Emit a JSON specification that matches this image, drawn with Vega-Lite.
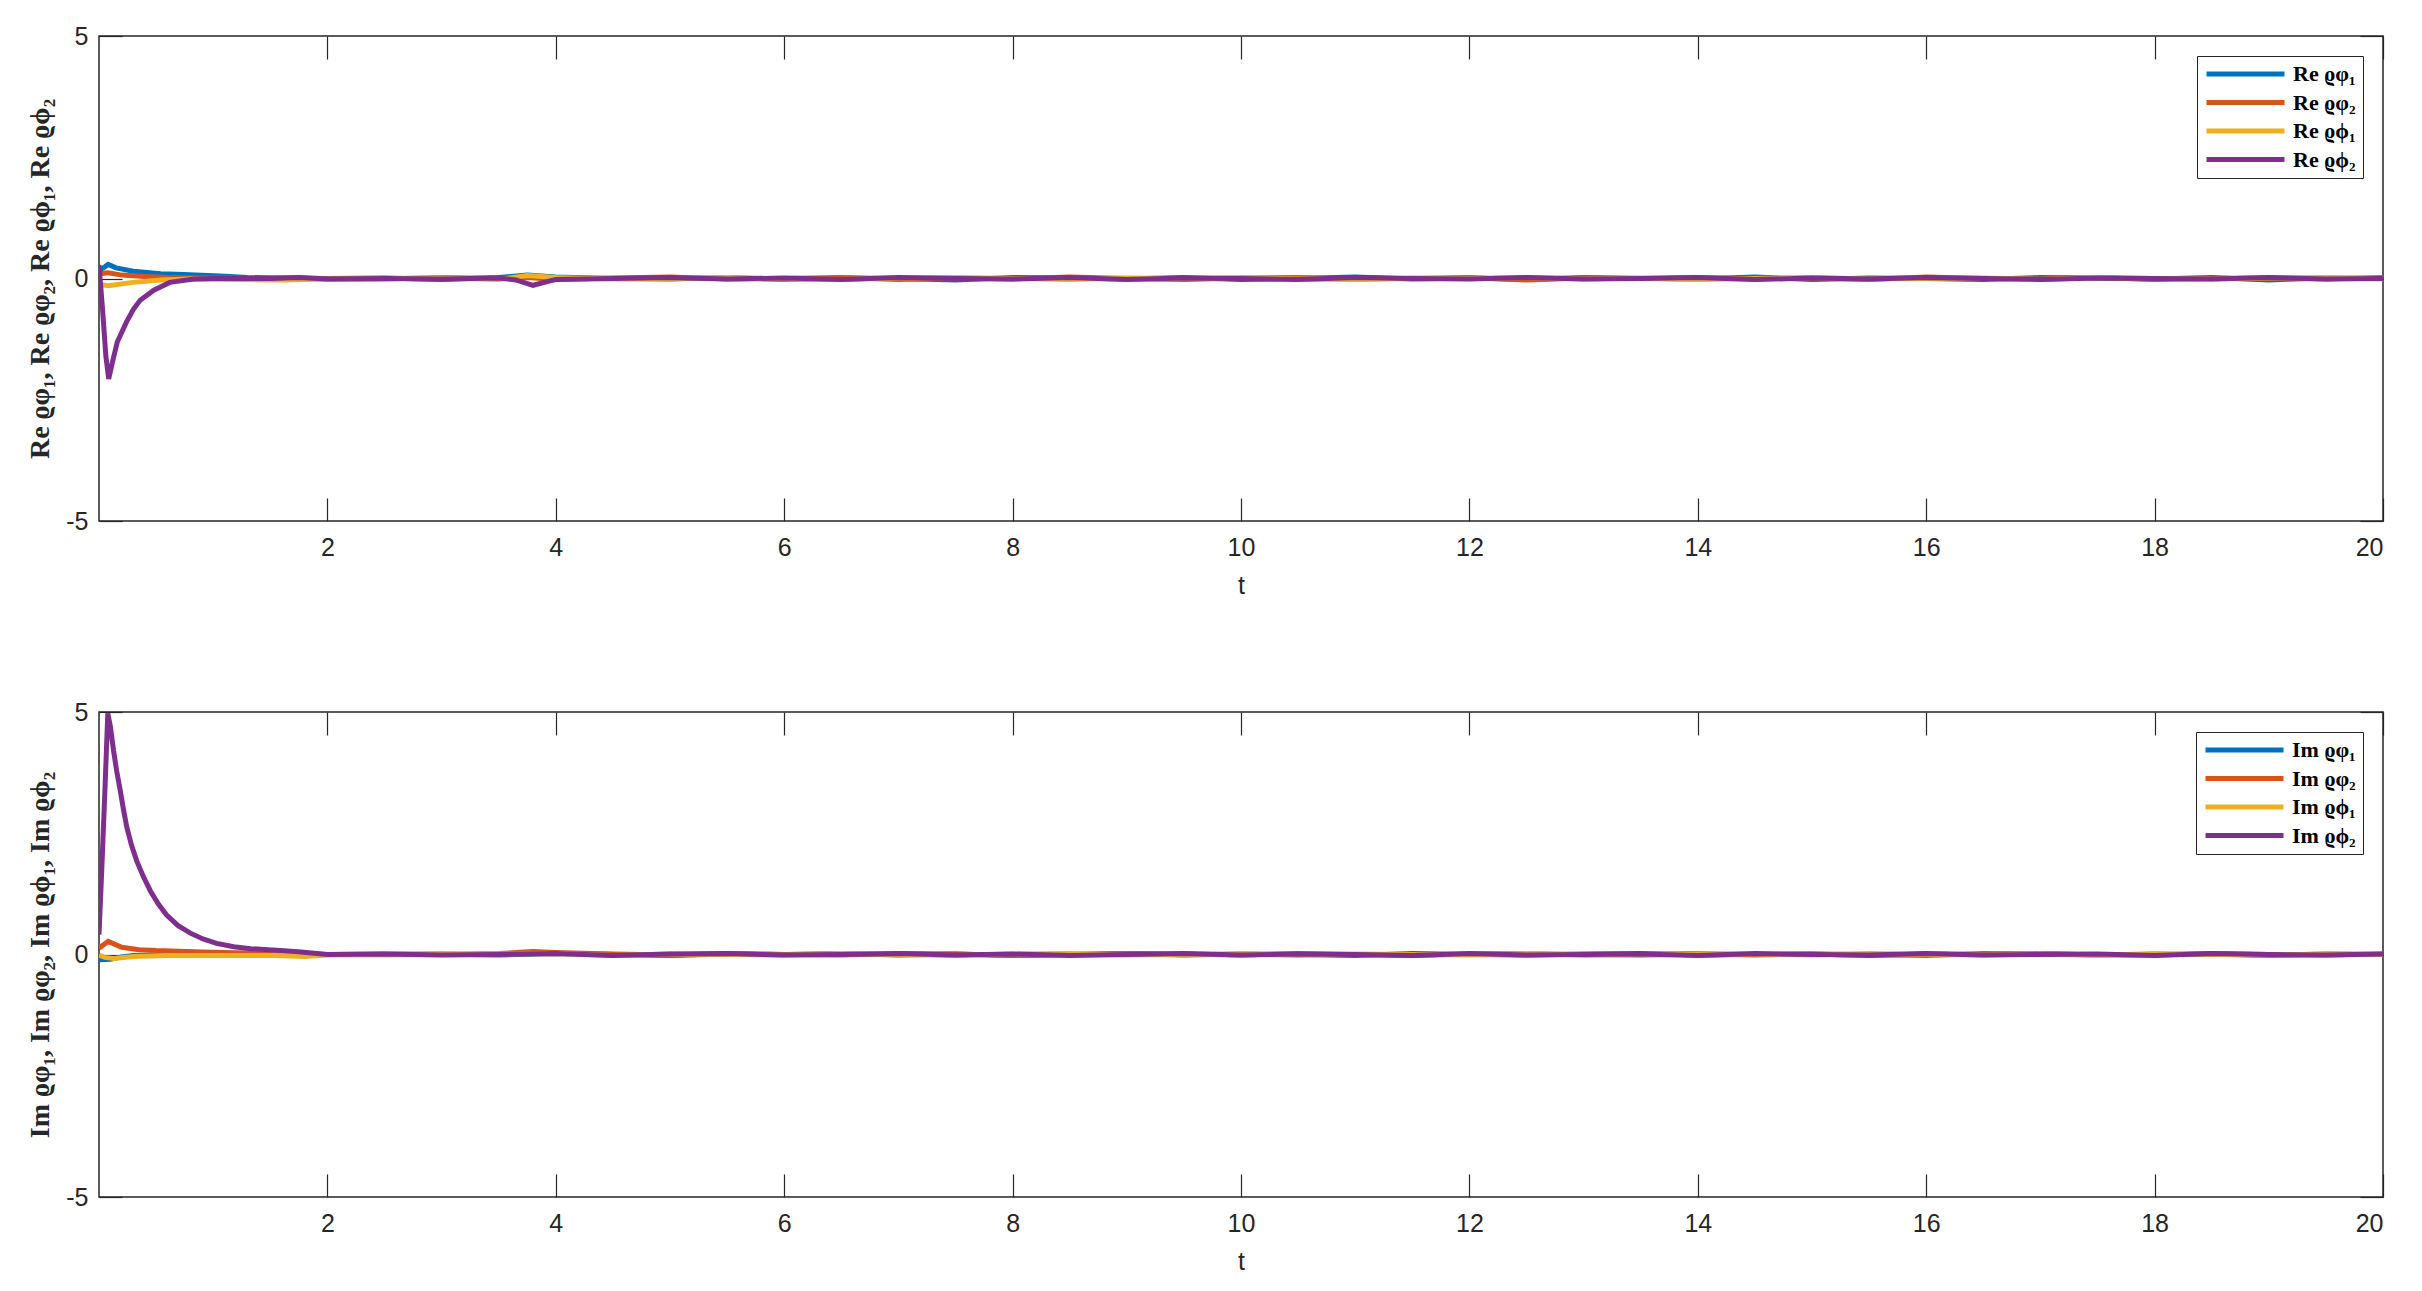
{
  "$schema": "https://vega.github.io/schema/vega-lite/v6.json",
  "background": "white",
  "padding": {"left": 26, "top": 23, "right": 0, "bottom": 0},
  "spacing": 100,
  "config": {
    "view": {"stroke": "#262626", "strokeWidth": 1.5},
    "axis": {"grid": false, "domain": false, "tickSize": -23, "tickColor": "#262626", "tickWidth": 1.2, "labelColor": "#262626", "labelFont": "Liberation Sans", "labelFontSize": 25, "titleColor": "#262626"},
    "legend": {"orient": "top-right", "offset": 20, "strokeColor": "#262626", "fillColor": "white", "padding": 7, "symbolType": "stroke", "symbolSize": 6084, "symbolStrokeWidth": 5, "clipHeight": 22, "rowPadding": 6.5, "labelOffset": 6, "labelFont": "Liberation Serif", "labelFontWeight": "bold", "labelFontSize": 22, "labelColor": "black", "title": null, "cornerRadius": 0}
  },
  "datasets": {
    "re": [
      {"s":"Re ϱφ₁","t":0,"v":0.17},{"s":"Re ϱφ₁","t":0.04,"v":0.22},{"s":"Re ϱφ₁","t":0.08,"v":0.29},{"s":"Re ϱφ₁","t":0.15,"v":0.22},{"s":"Re ϱφ₁","t":0.3,"v":0.15},{"s":"Re ϱφ₁","t":0.54,"v":0.1},{"s":"Re ϱφ₁","t":0.74,"v":0.08},{"s":"Re ϱφ₁","t":1.06,"v":0.05},{"s":"Re ϱφ₁","t":1.3,"v":0.02},{"s":"Re ϱφ₁","t":1.6,"v":0.01},{"s":"Re ϱφ₁","t":2,"v":0},
      {"s":"Re ϱφ₁","t":2.5,"v":0.01},{"s":"Re ϱφ₁","t":3,"v":-0.02},{"s":"Re ϱφ₁","t":3.5,"v":0.02},{"s":"Re ϱφ₁","t":3.75,"v":0.07},{"s":"Re ϱφ₁","t":4,"v":0.03},{"s":"Re ϱφ₁","t":4.5,"v":0},{"s":"Re ϱφ₁","t":5,"v":-0.01},{"s":"Re ϱφ₁","t":5.5,"v":0.02},{"s":"Re ϱφ₁","t":6,"v":-0.02},{"s":"Re ϱφ₁","t":6.5,"v":0.01},{"s":"Re ϱφ₁","t":7,"v":0},{"s":"Re ϱφ₁","t":7.5,"v":-0.03},{"s":"Re ϱφ₁","t":8,"v":0.02},{"s":"Re ϱφ₁","t":8.5,"v":0.01},{"s":"Re ϱφ₁","t":9,"v":-0.01},{"s":"Re ϱφ₁","t":9.5,"v":0.02},{"s":"Re ϱφ₁","t":10,"v":-0.02},{"s":"Re ϱφ₁","t":10.5,"v":0},{"s":"Re ϱφ₁","t":11,"v":0.03},{"s":"Re ϱφ₁","t":11.5,"v":-0.01},{"s":"Re ϱφ₁","t":12,"v":0.01},{"s":"Re ϱφ₁","t":12.5,"v":-0.02},{"s":"Re ϱφ₁","t":13,"v":0.02},{"s":"Re ϱφ₁","t":13.5,"v":0},{"s":"Re ϱφ₁","t":14,"v":-0.01},{"s":"Re ϱφ₁","t":14.5,"v":0.03},{"s":"Re ϱφ₁","t":15,"v":-0.02},{"s":"Re ϱφ₁","t":15.5,"v":0.01},{"s":"Re ϱφ₁","t":16,"v":0},{"s":"Re ϱφ₁","t":16.5,"v":-0.02},{"s":"Re ϱφ₁","t":17,"v":0.02},{"s":"Re ϱφ₁","t":17.5,"v":0.01},{"s":"Re ϱφ₁","t":18,"v":-0.01},{"s":"Re ϱφ₁","t":18.5,"v":0.02},{"s":"Re ϱφ₁","t":19,"v":-0.03},{"s":"Re ϱφ₁","t":19.5,"v":0.01},{"s":"Re ϱφ₁","t":20,"v":0},

      {"s":"Re ϱφ₂","t":0,"v":0.1},{"s":"Re ϱφ₂","t":0.08,"v":0.12},{"s":"Re ϱφ₂","t":0.2,"v":0.07},{"s":"Re ϱφ₂","t":0.4,"v":0.04},{"s":"Re ϱφ₂","t":0.6,"v":0.02},{"s":"Re ϱφ₂","t":0.9,"v":0.01},{"s":"Re ϱφ₂","t":1.3,"v":0},{"s":"Re ϱφ₂","t":1.7,"v":0.01},{"s":"Re ϱφ₂","t":2,"v":-0.01},
      {"s":"Re ϱφ₂","t":2.5,"v":-0.01},{"s":"Re ϱφ₂","t":3,"v":0.02},{"s":"Re ϱφ₂","t":3.5,"v":0},{"s":"Re ϱφ₂","t":3.75,"v":0.02},{"s":"Re ϱφ₂","t":4,"v":-0.02},{"s":"Re ϱφ₂","t":4.5,"v":0.01},{"s":"Re ϱφ₂","t":5,"v":0.03},{"s":"Re ϱφ₂","t":5.5,"v":-0.01},{"s":"Re ϱφ₂","t":6,"v":0},{"s":"Re ϱφ₂","t":6.5,"v":0.02},{"s":"Re ϱφ₂","t":7,"v":-0.02},{"s":"Re ϱφ₂","t":7.5,"v":0.01},{"s":"Re ϱφ₂","t":8,"v":-0.01},{"s":"Re ϱφ₂","t":8.5,"v":0.03},{"s":"Re ϱφ₂","t":9,"v":0},{"s":"Re ϱφ₂","t":9.5,"v":-0.02},{"s":"Re ϱφ₂","t":10,"v":0.01},{"s":"Re ϱφ₂","t":10.5,"v":0.02},{"s":"Re ϱφ₂","t":11,"v":-0.01},{"s":"Re ϱφ₂","t":11.5,"v":0},{"s":"Re ϱφ₂","t":12,"v":0.02},{"s":"Re ϱφ₂","t":12.5,"v":-0.03},{"s":"Re ϱφ₂","t":13,"v":0.01},{"s":"Re ϱφ₂","t":13.5,"v":0},{"s":"Re ϱφ₂","t":14,"v":0.02},{"s":"Re ϱφ₂","t":14.5,"v":-0.01},{"s":"Re ϱφ₂","t":15,"v":0.01},{"s":"Re ϱφ₂","t":15.5,"v":-0.02},{"s":"Re ϱφ₂","t":16,"v":0.03},{"s":"Re ϱφ₂","t":16.5,"v":0},{"s":"Re ϱφ₂","t":17,"v":-0.01},{"s":"Re ϱφ₂","t":17.5,"v":0.02},{"s":"Re ϱφ₂","t":18,"v":-0.02},{"s":"Re ϱφ₂","t":18.5,"v":0},{"s":"Re ϱφ₂","t":19,"v":0.01},{"s":"Re ϱφ₂","t":19.5,"v":-0.01},{"s":"Re ϱφ₂","t":20,"v":0.02},

      {"s":"Re ϱϕ₁","t":0,"v":-0.12},{"s":"Re ϱϕ₁","t":0.08,"v":-0.15},{"s":"Re ϱϕ₁","t":0.3,"v":-0.08},{"s":"Re ϱϕ₁","t":0.54,"v":-0.03},{"s":"Re ϱϕ₁","t":0.8,"v":-0.01},{"s":"Re ϱϕ₁","t":1.2,"v":-0.02},{"s":"Re ϱϕ₁","t":1.6,"v":-0.03},{"s":"Re ϱϕ₁","t":2,"v":-0.01},
      {"s":"Re ϱϕ₁","t":2.5,"v":0},{"s":"Re ϱϕ₁","t":3,"v":0.01},{"s":"Re ϱϕ₁","t":3.5,"v":-0.02},{"s":"Re ϱϕ₁","t":3.75,"v":0.06},{"s":"Re ϱϕ₁","t":4,"v":0.02},{"s":"Re ϱϕ₁","t":4.5,"v":-0.01},{"s":"Re ϱϕ₁","t":5,"v":0},{"s":"Re ϱϕ₁","t":5.5,"v":0.02},{"s":"Re ϱϕ₁","t":6,"v":-0.01},{"s":"Re ϱϕ₁","t":6.5,"v":-0.02},{"s":"Re ϱϕ₁","t":7,"v":0.01},{"s":"Re ϱϕ₁","t":7.5,"v":0.02},{"s":"Re ϱϕ₁","t":8,"v":0},{"s":"Re ϱϕ₁","t":8.5,"v":-0.02},{"s":"Re ϱϕ₁","t":9,"v":0.01},{"s":"Re ϱϕ₁","t":9.5,"v":0},{"s":"Re ϱϕ₁","t":10,"v":0.02},{"s":"Re ϱϕ₁","t":10.5,"v":-0.01},{"s":"Re ϱϕ₁","t":11,"v":-0.02},{"s":"Re ϱϕ₁","t":11.5,"v":0.01},{"s":"Re ϱϕ₁","t":12,"v":0},{"s":"Re ϱϕ₁","t":12.5,"v":0.02},{"s":"Re ϱϕ₁","t":13,"v":-0.01},{"s":"Re ϱϕ₁","t":13.5,"v":0.01},{"s":"Re ϱϕ₁","t":14,"v":-0.02},{"s":"Re ϱϕ₁","t":14.5,"v":0},{"s":"Re ϱϕ₁","t":15,"v":0.02},{"s":"Re ϱϕ₁","t":15.5,"v":-0.01},{"s":"Re ϱϕ₁","t":16,"v":0},{"s":"Re ϱϕ₁","t":16.5,"v":0.01},{"s":"Re ϱϕ₁","t":17,"v":-0.02},{"s":"Re ϱϕ₁","t":17.5,"v":0.02},{"s":"Re ϱϕ₁","t":18,"v":0},{"s":"Re ϱϕ₁","t":18.5,"v":-0.01},{"s":"Re ϱϕ₁","t":19,"v":0.01},{"s":"Re ϱϕ₁","t":19.5,"v":0.02},{"s":"Re ϱϕ₁","t":20,"v":-0.01},

      {"s":"Re ϱϕ₂","t":0,"v":0.28},{"s":"Re ϱϕ₂","t":0.03,"v":-0.6},{"s":"Re ϱϕ₂","t":0.06,"v":-1.6},{"s":"Re ϱϕ₂","t":0.085,"v":-2.07},{"s":"Re ϱϕ₂","t":0.12,"v":-1.7},{"s":"Re ϱϕ₂","t":0.16,"v":-1.31},{"s":"Re ϱϕ₂","t":0.24,"v":-0.9},{"s":"Re ϱϕ₂","t":0.3,"v":-0.64},{"s":"Re ϱϕ₂","t":0.36,"v":-0.45},{"s":"Re ϱϕ₂","t":0.48,"v":-0.24},{"s":"Re ϱϕ₂","t":0.62,"v":-0.08},{"s":"Re ϱϕ₂","t":0.83,"v":-0.01},{"s":"Re ϱϕ₂","t":1,"v":0},{"s":"Re ϱϕ₂","t":1.5,"v":0},{"s":"Re ϱϕ₂","t":1.75,"v":0.02},{"s":"Re ϱϕ₂","t":2,"v":-0.01},
      {"s":"Re ϱϕ₂","t":2.5,"v":0},{"s":"Re ϱϕ₂","t":3,"v":-0.01},{"s":"Re ϱϕ₂","t":3.5,"v":0.01},{"s":"Re ϱϕ₂","t":3.65,"v":-0.03},{"s":"Re ϱϕ₂","t":3.8,"v":-0.14},{"s":"Re ϱϕ₂","t":3.95,"v":-0.05},{"s":"Re ϱϕ₂","t":4,"v":-0.02},{"s":"Re ϱϕ₂","t":4.5,"v":0},{"s":"Re ϱϕ₂","t":5,"v":0.02},{"s":"Re ϱϕ₂","t":5.5,"v":-0.01},{"s":"Re ϱϕ₂","t":6,"v":0.01},{"s":"Re ϱϕ₂","t":6.5,"v":-0.02},{"s":"Re ϱϕ₂","t":7,"v":0.02},{"s":"Re ϱϕ₂","t":7.5,"v":0},{"s":"Re ϱϕ₂","t":8,"v":-0.01},{"s":"Re ϱϕ₂","t":8.5,"v":0.02},{"s":"Re ϱϕ₂","t":9,"v":-0.02},{"s":"Re ϱϕ₂","t":9.5,"v":0.01},{"s":"Re ϱϕ₂","t":10,"v":0},{"s":"Re ϱϕ₂","t":10.5,"v":-0.02},{"s":"Re ϱϕ₂","t":11,"v":0.02},{"s":"Re ϱϕ₂","t":11.5,"v":0},{"s":"Re ϱϕ₂","t":12,"v":-0.01},{"s":"Re ϱϕ₂","t":12.5,"v":0.02},{"s":"Re ϱϕ₂","t":13,"v":-0.01},{"s":"Re ϱϕ₂","t":13.5,"v":0},{"s":"Re ϱϕ₂","t":14,"v":0.02},{"s":"Re ϱϕ₂","t":14.5,"v":-0.02},{"s":"Re ϱϕ₂","t":15,"v":0.01},{"s":"Re ϱϕ₂","t":15.5,"v":-0.01},{"s":"Re ϱϕ₂","t":16,"v":0.02},{"s":"Re ϱϕ₂","t":16.5,"v":0},{"s":"Re ϱϕ₂","t":17,"v":-0.02},{"s":"Re ϱϕ₂","t":17.5,"v":0.01},{"s":"Re ϱϕ₂","t":18,"v":0},{"s":"Re ϱϕ₂","t":18.5,"v":-0.01},{"s":"Re ϱϕ₂","t":19,"v":0.02},{"s":"Re ϱϕ₂","t":19.5,"v":-0.01},{"s":"Re ϱϕ₂","t":20,"v":0}
    ],
    "im": [
      {"s":"Im ϱφ₁","t":0,"v":-0.11},{"s":"Im ϱφ₁","t":0.1,"v":-0.1},{"s":"Im ϱφ₁","t":0.2,"v":-0.05},{"s":"Im ϱφ₁","t":0.3,"v":-0.02},{"s":"Im ϱφ₁","t":0.5,"v":-0.01},{"s":"Im ϱφ₁","t":1,"v":0},{"s":"Im ϱφ₁","t":1.5,"v":0},{"s":"Im ϱφ₁","t":2,"v":0},
      {"s":"Im ϱφ₁","t":2.5,"v":0},{"s":"Im ϱφ₁","t":3,"v":0.01},{"s":"Im ϱφ₁","t":3.5,"v":-0.01},{"s":"Im ϱφ₁","t":4,"v":0.02},{"s":"Im ϱφ₁","t":4.5,"v":0},{"s":"Im ϱφ₁","t":5,"v":-0.02},{"s":"Im ϱφ₁","t":5.5,"v":0.01},{"s":"Im ϱφ₁","t":6,"v":0},{"s":"Im ϱφ₁","t":6.5,"v":0.02},{"s":"Im ϱφ₁","t":7,"v":-0.01},{"s":"Im ϱφ₁","t":7.5,"v":0.01},{"s":"Im ϱφ₁","t":8,"v":-0.02},{"s":"Im ϱφ₁","t":8.5,"v":0},{"s":"Im ϱφ₁","t":9,"v":0.02},{"s":"Im ϱφ₁","t":9.5,"v":-0.01},{"s":"Im ϱφ₁","t":10,"v":0.01},{"s":"Im ϱφ₁","t":10.5,"v":0},{"s":"Im ϱφ₁","t":11,"v":-0.02},{"s":"Im ϱφ₁","t":11.5,"v":0.02},{"s":"Im ϱφ₁","t":12,"v":0},{"s":"Im ϱφ₁","t":12.5,"v":-0.01},{"s":"Im ϱφ₁","t":13,"v":0.01},{"s":"Im ϱφ₁","t":13.5,"v":0.02},{"s":"Im ϱφ₁","t":14,"v":-0.01},{"s":"Im ϱφ₁","t":14.5,"v":0},{"s":"Im ϱφ₁","t":15,"v":0.01},{"s":"Im ϱφ₁","t":15.5,"v":-0.02},{"s":"Im ϱφ₁","t":16,"v":0.01},{"s":"Im ϱφ₁","t":16.5,"v":0},{"s":"Im ϱφ₁","t":17,"v":0.02},{"s":"Im ϱφ₁","t":17.5,"v":-0.01},{"s":"Im ϱφ₁","t":18,"v":0},{"s":"Im ϱφ₁","t":18.5,"v":0.01},{"s":"Im ϱφ₁","t":19,"v":-0.02},{"s":"Im ϱφ₁","t":19.5,"v":0.01},{"s":"Im ϱφ₁","t":20,"v":0},

      {"s":"Im ϱφ₂","t":0,"v":0.13},{"s":"Im ϱφ₂","t":0.04,"v":0.2},{"s":"Im ϱφ₂","t":0.08,"v":0.27},{"s":"Im ϱφ₂","t":0.2,"v":0.15},{"s":"Im ϱφ₂","t":0.35,"v":0.1},{"s":"Im ϱφ₂","t":0.5,"v":0.08},{"s":"Im ϱφ₂","t":0.9,"v":0.05},{"s":"Im ϱφ₂","t":1.3,"v":0.03},{"s":"Im ϱφ₂","t":1.7,"v":0.01},{"s":"Im ϱφ₂","t":2,"v":0},
      {"s":"Im ϱφ₂","t":2.5,"v":0.01},{"s":"Im ϱφ₂","t":3,"v":0},{"s":"Im ϱφ₂","t":3.5,"v":0.02},{"s":"Im ϱφ₂","t":3.8,"v":0.06},{"s":"Im ϱφ₂","t":4,"v":0.04},{"s":"Im ϱφ₂","t":4.5,"v":0.01},{"s":"Im ϱφ₂","t":5,"v":-0.01},{"s":"Im ϱφ₂","t":5.5,"v":0.02},{"s":"Im ϱφ₂","t":6,"v":0},{"s":"Im ϱφ₂","t":6.5,"v":-0.01},{"s":"Im ϱφ₂","t":7,"v":0.02},{"s":"Im ϱφ₂","t":7.5,"v":0.01},{"s":"Im ϱφ₂","t":8,"v":-0.02},{"s":"Im ϱφ₂","t":8.5,"v":0},{"s":"Im ϱφ₂","t":9,"v":0.02},{"s":"Im ϱφ₂","t":9.5,"v":0.01},{"s":"Im ϱφ₂","t":10,"v":-0.01},{"s":"Im ϱφ₂","t":10.5,"v":0.02},{"s":"Im ϱφ₂","t":11,"v":0},{"s":"Im ϱφ₂","t":11.5,"v":-0.02},{"s":"Im ϱφ₂","t":12,"v":0.01},{"s":"Im ϱφ₂","t":12.5,"v":0.02},{"s":"Im ϱφ₂","t":13,"v":-0.01},{"s":"Im ϱφ₂","t":13.5,"v":0},{"s":"Im ϱφ₂","t":14,"v":0.02},{"s":"Im ϱφ₂","t":14.5,"v":-0.01},{"s":"Im ϱφ₂","t":15,"v":0.01},{"s":"Im ϱφ₂","t":15.5,"v":0},{"s":"Im ϱφ₂","t":16,"v":-0.02},{"s":"Im ϱφ₂","t":16.5,"v":0.02},{"s":"Im ϱφ₂","t":17,"v":0.01},{"s":"Im ϱφ₂","t":17.5,"v":0},{"s":"Im ϱφ₂","t":18,"v":-0.01},{"s":"Im ϱφ₂","t":18.5,"v":0.02},{"s":"Im ϱφ₂","t":19,"v":0},{"s":"Im ϱφ₂","t":19.5,"v":-0.01},{"s":"Im ϱφ₂","t":20,"v":0.01},

      {"s":"Im ϱϕ₁","t":0,"v":-0.01},{"s":"Im ϱϕ₁","t":0.05,"v":-0.06},{"s":"Im ϱϕ₁","t":0.13,"v":-0.08},{"s":"Im ϱϕ₁","t":0.3,"v":-0.04},{"s":"Im ϱϕ₁","t":0.6,"v":-0.02},{"s":"Im ϱϕ₁","t":1,"v":-0.02},{"s":"Im ϱϕ₁","t":1.55,"v":-0.02},{"s":"Im ϱϕ₁","t":1.8,"v":-0.04},{"s":"Im ϱϕ₁","t":2,"v":-0.01},
      {"s":"Im ϱϕ₁","t":2.5,"v":-0.01},{"s":"Im ϱϕ₁","t":3,"v":0},{"s":"Im ϱϕ₁","t":3.5,"v":0.01},{"s":"Im ϱϕ₁","t":4,"v":0.02},{"s":"Im ϱϕ₁","t":4.5,"v":-0.02},{"s":"Im ϱϕ₁","t":5,"v":0.01},{"s":"Im ϱϕ₁","t":5.5,"v":0},{"s":"Im ϱϕ₁","t":6,"v":-0.01},{"s":"Im ϱϕ₁","t":6.5,"v":0.02},{"s":"Im ϱϕ₁","t":7,"v":0},{"s":"Im ϱϕ₁","t":7.5,"v":-0.02},{"s":"Im ϱϕ₁","t":8,"v":0.01},{"s":"Im ϱϕ₁","t":8.5,"v":0.02},{"s":"Im ϱϕ₁","t":9,"v":-0.01},{"s":"Im ϱϕ₁","t":9.5,"v":0},{"s":"Im ϱϕ₁","t":10,"v":0.01},{"s":"Im ϱϕ₁","t":10.5,"v":-0.02},{"s":"Im ϱϕ₁","t":11,"v":0.01},{"s":"Im ϱϕ₁","t":11.5,"v":0},{"s":"Im ϱϕ₁","t":12,"v":-0.01},{"s":"Im ϱϕ₁","t":12.5,"v":0.02},{"s":"Im ϱϕ₁","t":13,"v":0},{"s":"Im ϱϕ₁","t":13.5,"v":-0.02},{"s":"Im ϱϕ₁","t":14,"v":0.01},{"s":"Im ϱϕ₁","t":14.5,"v":0.01},{"s":"Im ϱϕ₁","t":15,"v":-0.01},{"s":"Im ϱϕ₁","t":15.5,"v":0.02},{"s":"Im ϱϕ₁","t":16,"v":0},{"s":"Im ϱϕ₁","t":16.5,"v":-0.01},{"s":"Im ϱϕ₁","t":17,"v":0.01},{"s":"Im ϱϕ₁","t":17.5,"v":-0.02},{"s":"Im ϱϕ₁","t":18,"v":0.02},{"s":"Im ϱϕ₁","t":18.5,"v":0},{"s":"Im ϱϕ₁","t":19,"v":-0.01},{"s":"Im ϱϕ₁","t":19.5,"v":0.01},{"s":"Im ϱϕ₁","t":20,"v":0},

      {"s":"Im ϱϕ₂","t":0,"v":0.41},{"s":"Im ϱϕ₂","t":0.025,"v":1.79},{"s":"Im ϱϕ₂","t":0.054,"v":3.52},{"s":"Im ϱϕ₂","t":0.077,"v":4.97},{"s":"Im ϱϕ₂","t":0.1,"v":4.7},{"s":"Im ϱϕ₂","t":0.127,"v":4.21},{"s":"Im ϱϕ₂","t":0.155,"v":3.78},{"s":"Im ϱϕ₂","t":0.186,"v":3.38},{"s":"Im ϱϕ₂","t":0.215,"v":2.98},{"s":"Im ϱϕ₂","t":0.244,"v":2.62},{"s":"Im ϱϕ₂","t":0.285,"v":2.25},{"s":"Im ϱϕ₂","t":0.33,"v":1.93},{"s":"Im ϱϕ₂","t":0.39,"v":1.6},{"s":"Im ϱϕ₂","t":0.45,"v":1.31},{"s":"Im ϱϕ₂","t":0.52,"v":1.04},{"s":"Im ϱϕ₂","t":0.59,"v":0.82},{"s":"Im ϱϕ₂","t":0.69,"v":0.6},{"s":"Im ϱϕ₂","t":0.8,"v":0.44},{"s":"Im ϱϕ₂","t":0.91,"v":0.32},{"s":"Im ϱϕ₂","t":1.03,"v":0.23},{"s":"Im ϱϕ₂","t":1.18,"v":0.16},{"s":"Im ϱϕ₂","t":1.33,"v":0.12},{"s":"Im ϱϕ₂","t":1.48,"v":0.1},{"s":"Im ϱϕ₂","t":1.62,"v":0.08},{"s":"Im ϱϕ₂","t":1.77,"v":0.05},{"s":"Im ϱϕ₂","t":1.91,"v":0.02},{"s":"Im ϱϕ₂","t":2,"v":0},
      {"s":"Im ϱϕ₂","t":2.5,"v":0.01},{"s":"Im ϱϕ₂","t":3,"v":-0.01},{"s":"Im ϱϕ₂","t":3.5,"v":0},{"s":"Im ϱϕ₂","t":4,"v":0.02},{"s":"Im ϱϕ₂","t":4.5,"v":-0.02},{"s":"Im ϱϕ₂","t":5,"v":0.01},{"s":"Im ϱϕ₂","t":5.5,"v":0.02},{"s":"Im ϱϕ₂","t":6,"v":-0.01},{"s":"Im ϱϕ₂","t":6.5,"v":0},{"s":"Im ϱϕ₂","t":7,"v":0.02},{"s":"Im ϱϕ₂","t":7.5,"v":-0.01},{"s":"Im ϱϕ₂","t":8,"v":0.01},{"s":"Im ϱϕ₂","t":8.5,"v":-0.02},{"s":"Im ϱϕ₂","t":9,"v":0},{"s":"Im ϱϕ₂","t":9.5,"v":0.02},{"s":"Im ϱϕ₂","t":10,"v":-0.01},{"s":"Im ϱϕ₂","t":10.5,"v":0.01},{"s":"Im ϱϕ₂","t":11,"v":0},{"s":"Im ϱϕ₂","t":11.5,"v":-0.02},{"s":"Im ϱϕ₂","t":12,"v":0.02},{"s":"Im ϱϕ₂","t":12.5,"v":-0.01},{"s":"Im ϱϕ₂","t":13,"v":0},{"s":"Im ϱϕ₂","t":13.5,"v":0.01},{"s":"Im ϱϕ₂","t":14,"v":-0.02},{"s":"Im ϱϕ₂","t":14.5,"v":0.02},{"s":"Im ϱϕ₂","t":15,"v":0},{"s":"Im ϱϕ₂","t":15.5,"v":-0.01},{"s":"Im ϱϕ₂","t":16,"v":0.02},{"s":"Im ϱϕ₂","t":16.5,"v":-0.01},{"s":"Im ϱϕ₂","t":17,"v":0},{"s":"Im ϱϕ₂","t":17.5,"v":0.01},{"s":"Im ϱϕ₂","t":18,"v":-0.02},{"s":"Im ϱϕ₂","t":18.5,"v":0.02},{"s":"Im ϱϕ₂","t":19,"v":0},{"s":"Im ϱϕ₂","t":19.5,"v":-0.01},{"s":"Im ϱϕ₂","t":20,"v":0.01}
    ]
  },
  "vconcat": [
    {
      "width": 2284, "height": 485,
      "data": {"name": "re"},
      "layer": [
        {
          "mark": {"type": "line", "strokeWidth": 5, "clip": true},
          "encoding": {
            "x": {"field": "t", "type": "quantitative", "scale": {"domain": [0, 20], "nice": false, "zero": false},
                  "axis": {"orient": "bottom", "values": [2,4,6,8,10,12,14,16,18,20], "labelPadding": 37, "title": "t", "titleFont": "Liberation Sans", "titleFontSize": 25, "titleFontWeight": "normal", "titlePadding": 13}},
            "y": {"field": "v", "type": "quantitative", "scale": {"domain": [-5, 5], "nice": false},
                  "axis": {"orient": "left", "values": [-5,0,5], "labelExpr": "'' + datum.value", "labelPadding": 34, "title": "Re ϱφ₁, Re ϱφ₂, Re ϱϕ₁, Re ϱϕ₂", "titleFont": "Liberation Serif", "titleFontWeight": "bold", "titleFontSize": 28, "titlePadding": 11}},
            "color": {"field": "s", "type": "nominal", "scale": {"domain": ["Re ϱφ₁","Re ϱφ₂","Re ϱϕ₁","Re ϱϕ₂"], "range": ["#0072BD","#D95319","#EDB120","#7E2F8E"]}, "legend": {}}
          }
        },
        {
          "mark": {"type": "line", "opacity": 0},
          "encoding": {
            "x": {"field": "t", "type": "quantitative", "scale": {"domain": [0, 20], "nice": false, "zero": false},
                  "axis": {"orient": "top", "values": [2,4,6,8,10,12,14,16,18,20], "labels": false, "title": null}},
            "y": {"field": "v", "type": "quantitative", "scale": {"domain": [-5, 5], "nice": false},
                  "axis": {"orient": "right", "values": [-5,0,5], "labels": false, "title": null}}
          }
        }
      ],
      "resolve": {"axis": {"x": "independent", "y": "independent"}}
    },
    {
      "width": 2284, "height": 485,
      "data": {"name": "im"},
      "layer": [
        {
          "mark": {"type": "line", "strokeWidth": 5, "clip": true},
          "encoding": {
            "x": {"field": "t", "type": "quantitative", "scale": {"domain": [0, 20], "nice": false, "zero": false},
                  "axis": {"orient": "bottom", "values": [2,4,6,8,10,12,14,16,18,20], "labelPadding": 37, "title": "t", "titleFont": "Liberation Sans", "titleFontSize": 25, "titleFontWeight": "normal", "titlePadding": 13}},
            "y": {"field": "v", "type": "quantitative", "scale": {"domain": [-5, 5], "nice": false},
                  "axis": {"orient": "left", "values": [-5,0,5], "labelExpr": "'' + datum.value", "labelPadding": 34, "title": "Im ϱφ₁, Im ϱφ₂, Im ϱϕ₁, Im ϱϕ₂", "titleFont": "Liberation Serif", "titleFontWeight": "bold", "titleFontSize": 28, "titlePadding": 11}},
            "color": {"field": "s", "type": "nominal", "scale": {"domain": ["Im ϱφ₁","Im ϱφ₂","Im ϱϕ₁","Im ϱϕ₂"], "range": ["#0072BD","#D95319","#EDB120","#7E2F8E"]}, "legend": {}}
          }
        },
        {
          "mark": {"type": "line", "opacity": 0},
          "encoding": {
            "x": {"field": "t", "type": "quantitative", "scale": {"domain": [0, 20], "nice": false, "zero": false},
                  "axis": {"orient": "top", "values": [2,4,6,8,10,12,14,16,18,20], "labels": false, "title": null}},
            "y": {"field": "v", "type": "quantitative", "scale": {"domain": [-5, 5], "nice": false},
                  "axis": {"orient": "right", "values": [-5,0,5], "labels": false, "title": null}}
          }
        }
      ],
      "resolve": {"axis": {"x": "independent", "y": "independent"}}
    }
  ],
  "resolve": {"scale": {"color": "independent"}, "legend": {"color": "independent"}}
}
